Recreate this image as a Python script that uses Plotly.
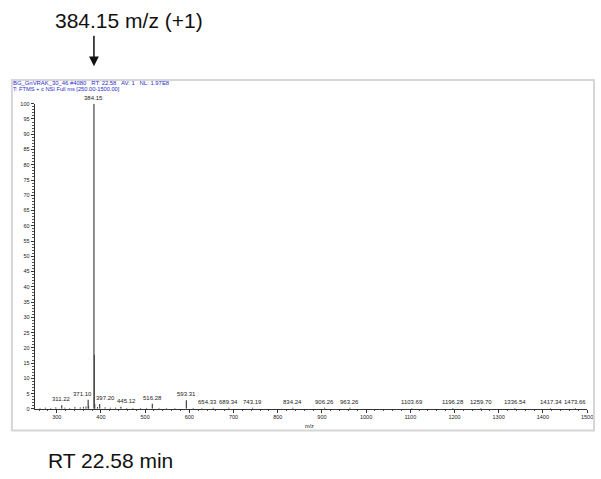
import plotly.graph_objects as go

# Centroided peaks: m/z and relative abundance (%)
mz_labeled = [311.22, 371.10, 384.15, 397.20, 445.12, 516.28, 593.31, 654.33,
              689.34, 743.19, 834.24, 906.26, 963.26, 1103.69, 1196.28,
              1259.70, 1336.54, 1417.34, 1473.66]
int_labeled = [1.2, 3.0, 100.0, 1.6, 0.7, 1.7, 2.8, 0.4,
               0.4, 0.4, 0.4, 0.4, 0.4, 0.3, 0.3,
               0.3, 0.3, 0.3, 0.3]

# Unlabeled isotope / baseline peaks
mz_minor = [262.1, 274.3, 286.2, 297.9, 318.4, 329.2, 341.1, 353.2, 360.4,
            366.2, 372.1, 385.15, 386.15, 392.2, 409.3, 421.2, 433.1, 458.3,
            472.2, 489.3, 503.2, 531.3, 548.2, 567.3, 608.3, 628.4]
int_minor = [0.3, 0.4, 0.3, 0.5, 0.4, 0.3, 0.6, 0.5, 0.7,
             0.8, 1.0, 17.7, 1.6, 0.6, 0.5, 0.4, 0.4, 0.3,
             0.3, 0.3, 0.3, 0.3, 0.3, 0.3, 0.3, 0.3]

precursor_label = "384.15 m/z (+1)"
rt_label = "RT 22.58 min"
header_1 = "BG_GnVRAK_30_46 #4080   RT: 22.58   AV: 1   NL: 1.97E8"
header_2 = "T: FTMS + c NSI Full ms [250.00-1500.00]"

# sideways nudge (px) for peak labels that would otherwise collide
label_nudge = {371.10: -6, 397.20: 6, 445.12: 6, 654.33: -6}

W, H = 601, 479
x0_px, x1_px = 35, 593
y0_px, y100_px = 411, 102
FONT = "Liberation Sans, Arial"


def sticks(xs, ys):
    px, py = [], []
    for m, v in zip(xs, ys):
        px += [m, m, None]
        py += [0, v, None]
    return px, py


fig = go.Figure()

sx, sy = sticks(mz_minor, int_minor)
fig.add_trace(go.Scatter(x=sx, y=sy, mode="lines",
                         line=dict(color="#444444", width=1),
                         hoverinfo="skip", showlegend=False))
lx, ly = sticks(mz_labeled, int_labeled)
fig.add_trace(go.Scatter(x=lx, y=ly, mode="lines",
                         line=dict(color="#444444", width=1.2),
                         hoverinfo="skip", showlegend=False))

annotations = []
for m, v in zip(mz_labeled, int_labeled):
    annotations.append(dict(x=m, y=v, xref="x", yref="y", text=f"{m:.2f}",
                            showarrow=False, yanchor="bottom", yshift=1,
                            xshift=label_nudge.get(m, 0),
                            font=dict(size=6, color="#222222", family=FONT)))

annotations += [
    dict(x=11 / W, y=1 - 81 / H, xref="paper", yref="paper", text=header_1,
         showarrow=False, xanchor="left", yanchor="middle",
         font=dict(size=5.9, color="#2a2ad0", family=FONT)),
    dict(x=11 / W, y=1 - 87 / H, xref="paper", yref="paper", text=header_2,
         showarrow=False, xanchor="left", yanchor="middle",
         font=dict(size=5.7, color="#2a2ad0", family=FONT)),
    dict(x=313 / W, y=1 - 428 / H, xref="paper", yref="paper", text="m/z",
         showarrow=False, xanchor="center", yanchor="middle",
         font=dict(size=5.5, color="#222222", family=FONT)),
    dict(x=54 / W, y=1 - 18 / H, xref="paper", yref="paper",
         text=precursor_label, showarrow=False, xanchor="left",
         yanchor="middle",
         font=dict(size=21, color="#111111", family=FONT)),
    dict(x=46 / W, y=1 - 463 / H, xref="paper", yref="paper", text=rt_label,
         showarrow=False, xanchor="left", yanchor="middle",
         font=dict(size=21, color="#111111", family=FONT)),
    # arrow pointing at the precursor peak
    dict(x=384.15, xref="x", y=1 - 64 / H, yref="paper", text="",
         showarrow=True, ax=0, ay=-32, arrowhead=2, arrowsize=1.3,
         arrowwidth=1.5, arrowcolor="#111111"),
]

fig.update_layout(
    width=W, height=H,
    margin=dict(l=0, r=0, t=0, b=0),
    paper_bgcolor="white", plot_bgcolor="white",
    annotations=annotations,
    shapes=[dict(type="rect", xref="paper", yref="paper",
                 x0=12 / W, x1=600 / W, y0=1 - 433 / H, y1=1 - 78 / H,
                 line=dict(color="#d6d6d6", width=2))],
    xaxis=dict(domain=[x0_px / W, x1_px / W], range=[250, 1500],
               showgrid=False, zeroline=False, showline=True,
               linecolor="#333333", linewidth=1,
               ticks="outside", ticklen=3, tickwidth=1, tickcolor="#333333",
               tick0=300, dtick=100,
               minor=dict(ticks="outside", ticklen=1.5, dtick=20,
                          tickcolor="#555555", showgrid=False),
               tickfont=dict(size=5.5, color="#222222", family=FONT)),
    yaxis=dict(domain=[1 - y0_px / H, 1 - y100_px / H], range=[0, 100],
               showgrid=False, zeroline=False, showline=True,
               linecolor="#333333", linewidth=1,
               ticks="outside", ticklen=3, tickwidth=1, tickcolor="#333333",
               tick0=0, dtick=5,
               minor=dict(ticks="outside", ticklen=1.5, dtick=1,
                          tickcolor="#555555", showgrid=False),
               tickfont=dict(size=5.5, color="#222222", family=FONT)),
)

fig.write_html("out.html")
